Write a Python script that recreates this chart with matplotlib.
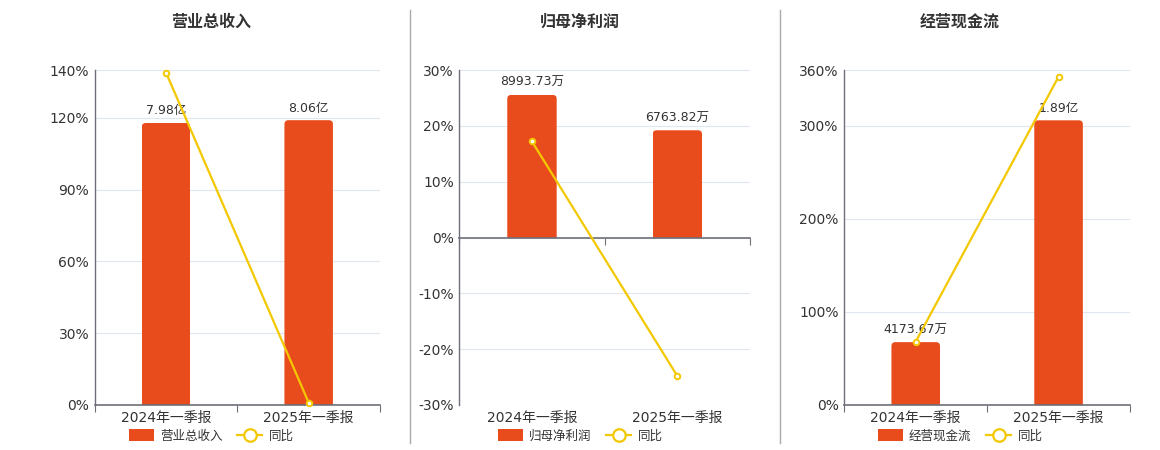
import matplotlib
matplotlib.use("Agg")
from matplotlib import pyplot as plt
from matplotlib.patches import Patch, FancyBboxPatch, Rectangle
from matplotlib.lines import Line2D

plt.rcParams['font.family'] = ['DejaVu Sans', 'Noto Sans CJK SC']

categories = ['2024年一季报', '2025年一季报']

revenue = [7.98, 8.06]            # 亿
revenue_labels = ['7.98亿', '8.06亿']
revenue_yoy = [138.9, 1.0]

profit = [8993.73, 6763.82]       # 万
profit_labels = ['8993.73万', '6763.82万']
profit_yoy = [17.2, -24.8]

cash = [4173.67, 18900.0]         # 万
cash_labels = ['4173.67万', '1.89亿']
cash_yoy = [68.1, 352.8]

BAR_C = '#e84c1d'
LINE_C = '#f3c800'
AXIS_C = '#6e7079'
GRID_C = '#e0e6f1'
TEXT_C = '#333333'

panels = [
    dict(title='营业总收入', bars=revenue, labels=revenue_labels, yoy=revenue_yoy,
         pos=[94.7, 380], yt=[0, 30, 60, 90, 120, 140], ylim=(0, 140),
         blim=(0, 9.48), center=211),
    dict(title='归母净利润', bars=profit, labels=profit_labels, yoy=profit_yoy,
         pos=[459.3, 750], yt=[-30, -20, -10, 0, 10, 20, 30], ylim=(-30, 30),
         blim=(-10566, 10566), center=580),
    dict(title='经营现金流', bars=cash, labels=cash_labels, yoy=cash_yoy,
         pos=[844.3, 1130], yt=[0, 100, 200, 300, 360], ylim=(0, 360),
         blim=(0, 22240), center=960),
]

W, H = 1160, 450
AX_H = 335
fig = plt.figure(figsize=(W / 100, H / 100), dpi=100)

x = list(range(len(categories)))
bw = 0.34
radius_px = 4

for p in panels:
    ax_w = p['pos'][1] - p['pos'][0]
    rect = [p['pos'][0] / W, 1 - 405 / H, ax_w / W, AX_H / H]

    # percent axis: grid, y ticks, category labels
    ax = fig.add_axes(rect)
    ax.set_xlim(-0.5, 1.5)
    ax.set_ylim(*p['ylim'])
    ax.set_yticks(p['yt'])
    ax.set_yticklabels([f'{v}%' for v in p['yt']])
    ax.set_xticks(x)
    ax.set_xticklabels(categories)
    ax.tick_params(axis='x', length=0, labelsize=10, labelcolor=TEXT_C, pad=4)
    ax.tick_params(axis='y', length=0, labelsize=10, labelcolor=TEXT_C, pad=4)
    ax.grid(axis='y', color=GRID_C, linewidth=0.8)
    ax.set_axisbelow(True)
    for s in ['top', 'right', 'bottom']:
        ax.spines[s].set_visible(False)
    ax.spines['left'].set_color(AXIS_C)
    ax.spines['left'].set_linewidth(1)

    # bar axis, bars with rounded top corners
    axb = fig.add_axes(rect)
    axb.patch.set_alpha(0)
    axb.set_xlim(-0.5, 1.5)
    axb.set_ylim(*p['blim'])
    xpp = 2.0 / ax_w
    ypp = (p['blim'][1] - p['blim'][0]) / AX_H
    r = radius_px * xpp
    for xi, v in zip(x, p['bars']):
        box = FancyBboxPatch((xi - bw / 2, -radius_px * ypp * 2), bw, v + radius_px * ypp * 2,
                             boxstyle=f'round,pad=0,rounding_size={r}',
                             mutation_aspect=ypp / xpp, facecolor=BAR_C, edgecolor='none')
        axb.add_patch(box)
        clip = Rectangle((xi - bw / 2, 0), bw, v, transform=axb.transData)
        box.set_clip_path(clip)
    for xi, v, lab in zip(x, p['bars'], p['labels']):
        axb.annotate(lab, (xi, v), xytext=(0, 4), textcoords='offset points',
                     ha='center', va='bottom', fontsize=9, color=TEXT_C)
    for s in ['top', 'right', 'left']:
        axb.spines[s].set_visible(False)
    axb.spines['bottom'].set_position(('data', 0))
    axb.spines['bottom'].set_color(AXIS_C)
    axb.spines['bottom'].set_linewidth(1.2)
    axb.set_xticks([-0.5, 0.5, 1.5])
    axb.tick_params(axis='x', length=5, color=AXIS_C, labelbottom=False, direction='out')
    axb.set_yticks([])

    # line axis
    axl = fig.add_axes(rect)
    axl.patch.set_alpha(0)
    axl.set_xlim(-0.5, 1.5)
    axl.set_ylim(*p['ylim'])
    axl.plot(x, p['yoy'], color=LINE_C, linewidth=1.6, marker='o', markersize=4,
             markerfacecolor='white', markeredgecolor=LINE_C, markeredgewidth=1.4,
             clip_on=False)
    axl.axis('off')

    fig.text(p['center'] / W, 1 - 22 / H, p['title'], ha='center', va='center',
             fontsize=11.5, fontweight='bold', color=TEXT_C)

    handles = [Patch(facecolor=BAR_C, edgecolor='none'),
               Line2D([0], [0], color=LINE_C, linewidth=1.6, marker='o', markersize=9,
                      markerfacecolor='white', markeredgecolor=LINE_C, markeredgewidth=1.6)]
    fig.legend(handles, [p['title'], '同比'], loc='center',
               bbox_to_anchor=(p['center'] / W, 1 - 436 / H), ncol=2, frameon=False,
               fontsize=9, handlelength=2.0, handleheight=1.1, columnspacing=1.2,
               handletextpad=0.5, labelcolor=TEXT_C)

for sx in [410, 780]:
    fig.add_artist(Line2D([sx / W, sx / W], [1 - 10 / H, 1 - 443 / H],
                          color='#aaaaaa', linewidth=1))

fig.savefig('out.png', dpi=100, facecolor='white')
